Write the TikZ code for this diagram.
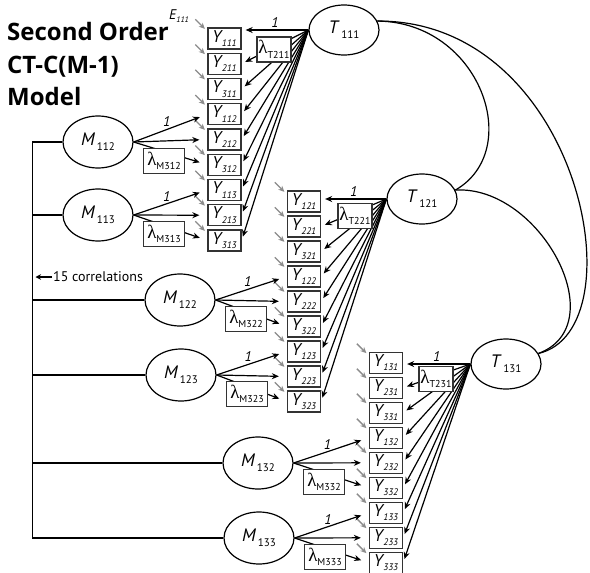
\documentclass[tikz,border=0pt]{standalone}
\usepackage{fontspec}
\setmainfont{PT Sans}
\newfontfamily\grkfont{Liberation Serif}
\newfontfamily\titlefont{Open Sans}
\usetikzlibrary{arrows.meta,calc,shapes.geometric}
\newcommand\mkY[1]{{\fontsize{17}{17}\selectfont\itshape Y\kern0.5pt\raisebox{-4.5pt}{\fontsize{9.5}{9.5}\selectfont #1}}}
\newcommand\mkF[2]{{\fontsize{18}{18}\selectfont\textit{#1}\kern1.5pt\raisebox{-5pt}{\fontsize{11}{11}\selectfont #2}}}
\newcommand\mkL[1]{{{\grkfont\fontsize{19}{19}\selectfont λ}\raisebox{-4.5pt}{\fontsize{10}{10}\selectfont #1}}}
\tikzset{
  ybox/.style={draw=black!80, line width=1.3pt, minimum width=33pt, minimum height=21pt, inner sep=0pt, fill=white},
  latent/.style={ellipse, draw, line width=1.2pt, minimum width=70pt, minimum height=50pt, inner sep=0pt},
  mlatent/.style={latent, minimum height=52pt},
  lamT/.style={draw=black!80, line width=1.2pt, fill=white, minimum width=34pt, minimum height=25pt, inner sep=1pt},
  lamM/.style={lamT, minimum width=41pt},
  arr/.style={line width=1.2pt, -{Stealth[length=7pt,width=6pt]}},
  err/.style={line width=1.4pt, draw=black!45, -{Stealth[length=6pt,width=5.5pt]}},
  one/.style={font=\fontsize{14}{14}\selectfont\itshape, inner sep=2pt},
  cov/.style={line width=1.2pt},
  title/.style={anchor=base west, inner sep=0pt, font=\titlefont\bfseries\fontsize{24}{24}\selectfont},
}
\begin{document}
\begin{tikzpicture}[x=1pt,y=-1pt]
\fill[white] (0,0) rectangle (590,573);
\useasboundingbox (0,0) rectangle (590,573);

% title
\node[title] (t1) at (7,40) {Second Order};
\node[title] (t2) at (7,73) {CT-C(M-1)};
\node[title] (t3) at (7,105) {Model};

% observed variables
\foreach \g/\xx/\yo/\dy in {1/224.5/38.5/25.25, 2/304/201.5/25, 3/386/362.8/25}{
  \foreach \l in {1,2,3}{
    \foreach \j in {1,2,3}{
      \pgfmathsetmacro\yy{\yo+\dy*(3*(\l-1)+\j-1)}
      \node[ybox] (Y\j\g\l) at (\xx,\yy) {\mkY{\j\g\l}};
      \draw[err] ($(Y\j\g\l.north west)+(-12,-8)$) -- ($(Y\j\g\l.north west)+(-2.5,1.5)$);
    }
  }
}
\node[anchor=west, inner sep=0pt] (E111) at (169,16) {\fontsize{14}{14}\selectfont\itshape E\raisebox{-3.5pt}{\fontsize{8}{8}\selectfont 111}};

% trait factors
\node[latent] (T111) at (344,30) {\mkF{T}{111}};
\node[latent] (T121) at (422,199) {\mkF{T}{121}};
\node[latent] (T131) at (506,364) {\mkF{T}{131}};

\foreach \g in {1,2,3}{
  \draw[arr, shorten >=4pt] (T1\g1.west) -- (Y1\g1.east |- T1\g1.west) node[midway, above, one] {1};
  \foreach \j/\l in {2/1,3/1,1/2,2/2,3/2,1/3,2/3,3/3}{
    \draw[arr, shorten >=4pt] (T1\g1.west) -- (Y\j\g\l.east);
  }
}
\node[lamT] (LT211) at (274,49.5) {\mkL{T211}};
\node[lamT] (LT221) at (355,216) {\mkL{T221}};
\node[lamT] (LT231) at (436,379) {\mkL{T231}};

% method factors
\node[mlatent] (M112) at (98,142) {\mkF{M}{112}};
\node[mlatent] (M113) at (98,215) {\mkF{M}{113}};
\node[mlatent] (M122) at (180,300) {\mkF{M}{122}};
\node[mlatent] (M123) at (181,375) {\mkF{M}{123}};
\node[mlatent] (M132) at (258,463) {\mkF{M}{132}};
\node[mlatent] (M133) at (259,538) {\mkF{M}{133}};

\foreach \g/\l in {1/2,1/3,2/2,2/3,3/2,3/3}{
  \draw[arr, shorten >=8pt] (M1\g\l.east) -- (Y1\g\l.west) node[pos=0.45, above, one] {1};
  \draw[arr, shorten >=8pt] (M1\g\l.east) -- (Y2\g\l.west);
  \draw[arr, shorten >=8pt] (M1\g\l.east) -- (Y3\g\l.west);
  \node[lamM] (LM3\g\l) at ($(M1\g\l.center)+(66,19)$) {\mkL{M3\g\l}};
}

% correlations among method factors
\coordinate (vx) at (32.3,0);
\draw[line width=1.2pt] (M112.west -| vx) -- (M133.west -| vx);
\foreach \m in {M112,M113,M122,M123,M132,M133}{
  \draw[line width=1.2pt] (\m.west -| vx) -- (\m.west);
}
\node[anchor=west, inner sep=0pt, font=\fontsize{14}{14}\selectfont] (corr) at (53,277) {15 correlations};
\coordinate (corrtip) at (35.5,277);
\draw[line width=1.1pt, -{Stealth[length=5.5pt,width=5.5pt]}, shorten <=1pt] (corr.west) -- (corrtip);

% trait covariances
\draw[cov] (T111.15) .. controls (480,22) and (525,150) .. (T121.15);
\draw[cov] (T111.15) .. controls (580,20) and (640,330) .. (T131.18);
\draw[cov] (T121.15) .. controls (540,185) and (615,325) .. (T131.18);
\end{tikzpicture}
\end{document}
